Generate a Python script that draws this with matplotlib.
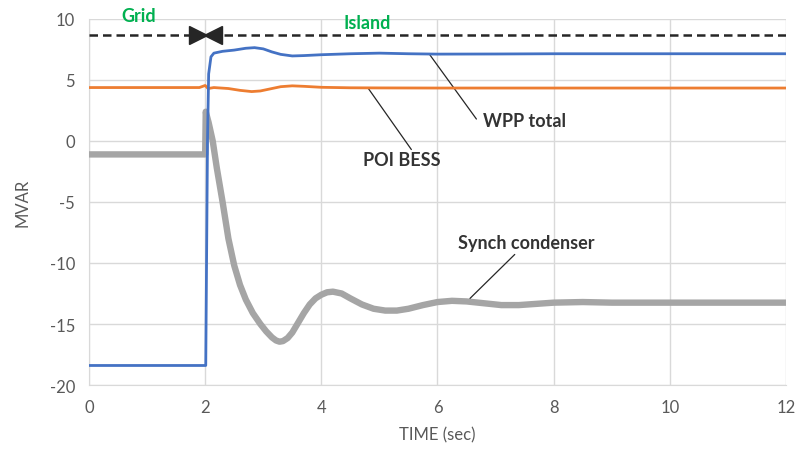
import matplotlib
matplotlib.use("Agg")
import matplotlib.pyplot as plt

plt.rcParams["font.family"] = ["Lato", "DejaVu Sans"]
plt.rcParams["axes.unicode_minus"] = False

# Transition from grid-connected to islanded operation
SWITCH_T = 2.0
ISLAND_LEVEL = 8.7

# WPP total reactive power
wpp_t = [0, 2.01, 2.04, 2.06, 2.1, 2.15, 2.3, 2.5, 2.7, 2.85, 3.0, 3.15, 3.3,
         3.5, 3.7, 4.0, 4.5, 5.0, 5.5, 6.0, 7.0, 8.0, 9.0, 10.0, 12.0]
wpp_q = [-18.4, -18.4, 0.0, 5.5, 6.9, 7.2, 7.35, 7.45, 7.6, 7.65, 7.55, 7.3, 7.1,
         6.97, 7.0, 7.07, 7.15, 7.2, 7.15, 7.12, 7.13, 7.15, 7.15, 7.15, 7.15]

# POI BESS reactive power
bess_t = [0, 1.9, 2.0, 2.05, 2.15, 2.4, 2.6, 2.8, 2.95, 3.1, 3.3, 3.5, 3.7,
          4.0, 4.5, 5.0, 6.0, 12.0]
bess_q = [4.38, 4.38, 4.55, 4.3, 4.38, 4.3, 4.15, 4.05, 4.1, 4.25, 4.45, 4.52, 4.48,
          4.4, 4.36, 4.35, 4.34, 4.34]

# Synchronous condenser reactive power
sc_t = [0, 2.0, 2.01, 2.06, 2.13, 2.2, 2.3, 2.4, 2.5, 2.6, 2.7, 2.82, 2.95, 3.05,
        3.15, 3.22, 3.28, 3.34, 3.42, 3.5, 3.6, 3.7, 3.8, 3.9, 4.0, 4.1, 4.2,
        4.35, 4.5, 4.7, 4.9, 5.1, 5.3, 5.5, 5.75, 6.0, 6.25, 6.5, 6.8, 7.1, 7.4,
        7.7, 8.0, 8.5, 9.0, 10.0, 11.0, 12.0]
sc_q = [-1.1, -1.1, 2.4, 1.5, 0.0, -2.2, -5.0, -8.0, -10.2, -11.8, -13.0, -14.1,
        -15.0, -15.6, -16.1, -16.35, -16.45, -16.4, -16.15, -15.7, -14.9, -14.1,
        -13.4, -12.9, -12.6, -12.4, -12.35, -12.5, -12.9, -13.4, -13.75, -13.9,
        -13.9, -13.75, -13.45, -13.2, -13.1, -13.15, -13.3, -13.45, -13.45,
        -13.35, -13.25, -13.2, -13.25, -13.25, -13.25, -13.25]

x_ticks = [0, 2, 4, 6, 8, 10, 12]
y_ticks = [-20, -15, -10, -5, 0, 5, 10]

TEXT_GRAY = "#595959"
GRID_GRAY = "#D9D9D9"
GREEN = "#00B050"

fig = plt.figure(figsize=(8.04, 4.52), dpi=100)
ax = fig.add_axes([0.1107, 0.146, 0.8669, 0.8098])

ax.plot(sc_t, sc_q, color="#A5A5A5", lw=4.6, solid_capstyle="butt",
        solid_joinstyle="round", zorder=3)
ax.plot(bess_t, bess_q, color="#ED7D31", lw=2.0, zorder=4)
ax.plot(wpp_t, wpp_q, color="#4472C4", lw=2.0, zorder=5)

# Grid / island boundary marker
ax.plot([0, 12], [ISLAND_LEVEL, ISLAND_LEVEL], color="#262626", lw=1.8,
        dashes=(3.4, 2.0), zorder=6)
ax.plot([SWITCH_T - 0.13], [ISLAND_LEVEL], marker=">", ms=13, color="#262626",
        mec="#262626", zorder=7, clip_on=False)
ax.plot([SWITCH_T + 0.14], [ISLAND_LEVEL], marker="<", ms=13, color="#262626",
        mec="#262626", zorder=7, clip_on=False)
ax.text(0.85, 10.25, "Grid", color=GREEN, fontsize=13, fontweight="bold",
        ha="center", va="center", clip_on=False)
ax.text(4.79, 9.75, "Island", color=GREEN, fontsize=13, fontweight="bold",
        ha="center", va="center", clip_on=False)

# Series call-outs
callout = dict(arrowstyle="-", color="#262626", lw=0.9, shrinkA=0, shrinkB=0)
ax.annotate("", xy=(5.87, 7.05), xytext=(6.67, 1.8), arrowprops=callout)
ax.text(6.78, 1.65, "WPP total", fontsize=13, fontweight="bold",
        color="#333333", ha="left", va="center")
ax.annotate("", xy=(4.81, 4.3), xytext=(5.55, -0.7), arrowprops=callout)
ax.text(5.38, -1.5, "POI BESS", fontsize=13, fontweight="bold",
        color="#333333", ha="center", va="center")
ax.annotate("", xy=(6.56, -12.9), xytext=(7.33, -9.3), arrowprops=callout)
ax.text(7.53, -8.35, "Synch condenser", fontsize=13, fontweight="bold",
        color="#333333", ha="center", va="center")

ax.set_xlim(0, 12)
ax.set_ylim(-20, 10)
ax.set_xticks(x_ticks)
ax.set_yticks(y_ticks)
ax.tick_params(length=0, labelsize=12, colors=TEXT_GRAY, pad=10)
ax.grid(True, color=GRID_GRAY, lw=1.0, zorder=0)
ax.set_axisbelow(True)
for side in ["top", "right"]:
    ax.spines[side].set_visible(False)
for side in ["left", "bottom"]:
    ax.spines[side].set_color(GRID_GRAY)

ax.set_xlabel("TIME (sec)", fontsize=12, color=TEXT_GRAY, labelpad=8)
ax.set_ylabel("MVAR", fontsize=12, color=TEXT_GRAY, labelpad=14)

fig.savefig("out.png", dpi=100)
